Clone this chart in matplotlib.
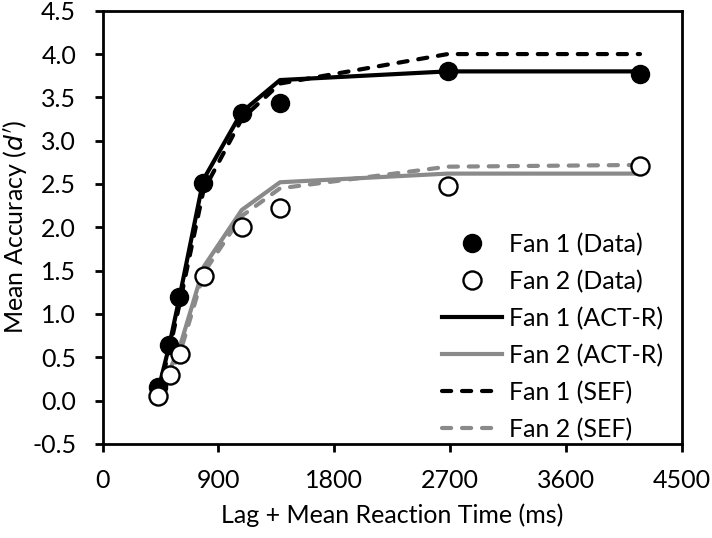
import matplotlib.pyplot as plt

plt.rcParams['font.family'] = ['Lato', 'DejaVu Sans']

# data
fan1_x = [434, 516, 596, 783, 1081, 1378, 2680, 4173]
fan2_x = [433, 524, 602, 788, 1081, 1378, 2680, 4173]
fan1_data = [0.16, 0.64, 1.20, 2.51, 3.32, 3.44, 3.80, 3.77]
fan2_data = [0.05, 0.30, 0.54, 1.44, 2.00, 2.22, 2.48, 2.71]
fan1_actr = [0.13, 0.62, 1.18, 2.55, 3.33, 3.70, 3.80, 3.80]
fan2_actr = [0.05, 0.36, 0.63, 1.55, 2.20, 2.52, 2.62, 2.62]
fan1_sef = [0.10, 0.56, 1.10, 2.42, 3.25, 3.66, 4.00, 4.00]
fan2_sef = [0.02, 0.30, 0.55, 1.48, 2.13, 2.45, 2.70, 2.72]

x_ticks = [0, 900, 1800, 2700, 3600, 4500]
y_ticks = [-0.5, 0.0, 0.5, 1.0, 1.5, 2.0, 2.5, 3.0, 3.5, 4.0, 4.5]

gray = '#8a8a8a'
lw = 3.0
dash = (2.2, 2.6)
fs = 18

fig = plt.figure(figsize=(7.12, 5.38), dpi=100)
ax = fig.add_axes([0.144, 0.175, 0.814, 0.805])

ax.plot(fan1_x, fan1_data, 'o', color='black', markersize=13, zorder=5,
        label='Fan 1 (Data)')
ax.plot(fan2_x, fan2_data, 'o', markerfacecolor='white', markeredgecolor='black',
        markeredgewidth=1.7, markersize=13, zorder=5, label='Fan 2 (Data)')
ax.plot(fan1_x, fan1_actr, color='black', lw=lw, label='Fan 1 (ACT-R)')
ax.plot(fan2_x, fan2_actr, color=gray, lw=lw, label='Fan 2 (ACT-R)')
ax.plot(fan1_x, fan1_sef, color='black', lw=lw, dashes=dash,
        dash_capstyle='round', label='Fan 1 (SEF)')
ax.plot(fan2_x, fan2_sef, color=gray, lw=lw, dashes=dash,
        dash_capstyle='round', label='Fan 2 (SEF)')

ax.set_xlim(0, 4500)
ax.set_ylim(-0.5, 4.5)
ax.set_xticks(x_ticks)
ax.set_yticks(y_ticks)
ax.set_yticklabels([f'{v:.1f}' for v in y_ticks])
ax.tick_params(direction='out', length=6, width=2, labelsize=fs)
ax.tick_params(axis='x', pad=12)
ax.tick_params(axis='y', pad=13)

for s in ax.spines.values():
    s.set_linewidth(2)

ax.set_xlabel('Lag + Mean Reaction Time (ms)', fontsize=fs, labelpad=8)
ax.set_ylabel("Mean Accuracy ($d'$)", fontsize=fs, labelpad=2)

leg = ax.legend(loc='lower right', bbox_to_anchor=(0.984, -0.017), borderaxespad=0,
                frameon=False, fontsize=fs, handlelength=2.4,
                handletextpad=0.25, labelspacing=0.55)

fig.savefig('out.png', dpi=100)
